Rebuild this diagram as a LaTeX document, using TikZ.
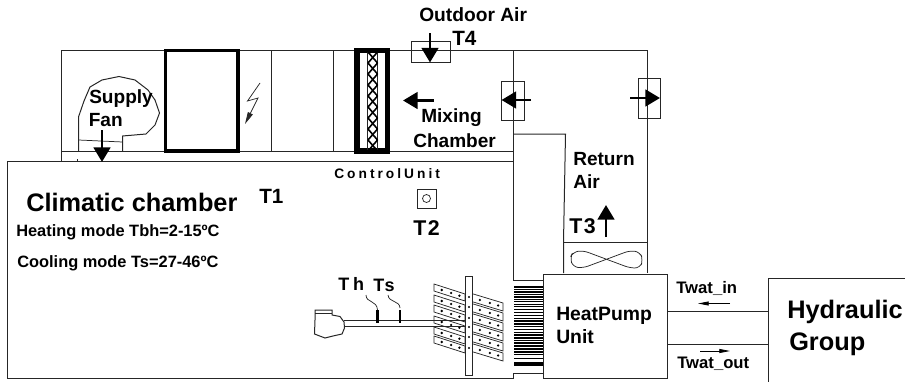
\documentclass[tikz,border=0pt]{standalone}
\usepackage{fontspec}
\setmainfont{Liberation Sans}
\usetikzlibrary{arrows.meta}
\tikzset{
  ln/.style={draw=black!85,line width=0.75pt},
  thin ln/.style={draw=black!85,line width=0.55pt},
  thick frame/.style={draw=black,line width=2.6pt},
  bigarrow/.style={line width=2pt,-{Triangle[width=12.5pt,length=11pt]}},
  tinyarrow/.style={line width=0.6pt,-{Triangle[width=3pt,length=8pt]}},
  txt/.style={inner sep=0pt,anchor=west,font=\bfseries},
  lab/.style={txt,font=\fontsize{14.3}{14.3}\selectfont\bfseries},
  lab big/.style={txt,font=\fontsize{15.5}{15.5}\selectfont\bfseries},
  fin/.style={fill=white,draw=black!85,line width=0.55pt},
  dot/.style={fill=black,draw=none}
}
\newcommand{\lsp}[1]{\addfontfeatures{LetterSpace=#1}}
\begin{document}
\begin{tikzpicture}[x=0.75pt,y=-0.75pt]
\useasboundingbox (0,0) rectangle (905,382);
% AHU casing
\draw[ln] (61.5,161) -- (61.5,50) -- (647,50) -- (647,273);
\draw[ln] (61.5,151) -- (513,151);
\draw[ln] (513,50) -- (513,280) -- (543,280);
\draw[ln] (271.5,50) -- (271.5,151);
\draw[ln] (333.5,50) -- (333.5,151);
\draw[ln] (77.5,159) -- (77.5,161);
% chamber
\draw[ln] (513,161.5) -- (7,161.5) -- (7,378) -- (513,378) -- (513,373) -- (543,373);
% heat filter
\draw[thick frame] (165.5,50.5) rectangle (238,151);
% lightning
\draw[thin ln,-{Triangle[width=4pt,length=9pt]}] (260,83) -- (247.5,101) -- (258,98) -- (245,124);
% filter
\draw[thick frame,line width=4pt] (357,50.5) rectangle (387.5,151);
\draw[thin ln] (367.5,52) -- (367.5,150) (377.5,52) -- (377.5,150);
\foreach \k in {0,...,8}{
  \draw[line width=1.2pt] (368,{52+\k*11}) -- (377.5,{63+\k*11});
  \draw[line width=1.2pt] (377.5,{52+\k*11}) -- (368,{63+\k*11});
}
% supply fan
\draw[ln] (78.5,151) -- (78.5,117) -- (84,101) -- (90,87) -- (102,80) -- (119,76.5) -- (135,80) -- (148,90) -- (155,100) -- (159.5,113) -- (155,125) -- (146,134) -- (122.5,136) -- (122.5,151);
\draw[thin ln] (78.5,140) -- (122.5,142);
\draw[bigarrow] (102,130) -- (102,162);
\node[lab] (supply) at (89,99) {Supply};
\node[lab] (fan) at (88.5,120.5) {Fan};
% dampers
\draw[ln] (411,41) rectangle (450,62.5);
\draw[bigarrow] (430,33) -- (430,62.5);
\draw[ln] (501.5,81) rectangle (524.5,120);
\draw[bigarrow] (531,100) -- (501.5,100);
\draw[ln] (638,78) rectangle (660,118.5);
\draw[bigarrow] (630,98) -- (660,98);
\draw[bigarrow] (433.5,100.5) -- (403,100.5);
% return duct
\draw[ln] (513,134) -- (565.5,134) -- (563.5,242) -- (563.5,273);
\draw[ln] (563.5,242) -- (647,242);
\draw[bigarrow] (606,237) -- (606,205);
% small fan
\draw[thin ln,rounded corners=4pt] (570,258) -- (573,252) -- (583,250.5) -- (630,268) -- (640,268) -- (643,260) -- (640,252) -- (630,250.5) -- (583,268) -- (573,267) -- cycle;
% heat pump box & hydraulic
\draw[ln] (543,274) rectangle (667,378.5);
\draw[ln] (667,311) -- (768,311);
\draw[ln] (667,344) -- (768,344);
\draw[ln] (905,278.5) -- (768.5,278.5) -- (768.5,382);
\draw[tinyarrow] (730,303.5) -- (698,303.5);
\draw[tinyarrow] (700,351) -- (730,351);
% condenser stripes
\foreach \a/\b in {286/287.5,288.5/290,291/292.5,293.5/295,296/297.5,298.5/300,301/302,303.5/304.5,306/307,309/310,312/313,315/316,317.5/319,320/321.5,322.5/325,326/327,329/330,332/333,334/336,337/338.5,339.5/341,342/344,345/347,348/350,351/353,354/355,358/359,361.5/366}{
  \fill[black] (513.5,\a) rectangle (543,\b);
}
% coil fins
\foreach \y in {284,295,305,316,327,336}{
  \draw[fin] (434,\y) -- (465,{\y+10}) -- (465,{\y+17}) -- (434,{\y+7}) -- cycle;
  \foreach \t in {0.25,0.55,0.82} \fill[dot] ({434+31*\t},{\y+10*\t+3.5}) circle (1.3);
}
\foreach \y in {293,303,313,323,333,343}{
  \draw[fin] (470,\y) -- (503,{\y+10}) -- (503,{\y+18}) -- (470,{\y+8}) -- cycle;
  \foreach \t in {0.3,0.6,0.85} \fill[dot] ({470+33*\t},{\y+10*\t+4}) circle (1.3);
}
% indoor fan and duct
\draw[ln] (344,320) -- (465,320);
\draw[ln] (344,326.5) -- (465,326.5);
\draw[ln] (315,310) -- (332,310) -- (332,315) -- (340,316.5) -- (344,322) -- (344.5,328) -- (342,334) -- (333,336) -- (325,338) -- (314.5,334) -- (315,320) -- cycle;
\draw[thin ln] (315,313) -- (332,313);
% coil plate
\draw[fin,line width=0.75pt] (465.5,276) rectangle (472,375);
\foreach \y in {297,307,318,327,337,348} \fill[dot] (469,\y) circle (1.2);
% sensors
\draw[thin ln] (366,295) .. controls (366,303) and (377,300) .. (377.5,310);
\draw[line width=2pt] (377.5,310) -- (377.5,323);
\draw[thin ln] (388,295) .. controls (389,303) and (399.5,300) .. (400,308);
\draw[line width=2pt] (400,310) -- (400,323);
% control unit sensor
\draw[ln] (417,189) rectangle (436,208);
\draw[thin ln] (426.5,198.5) circle (4);
% texts
\node[txt,font=\fontsize{14.4}{14.4}\selectfont\bfseries] (outdoor) at (419,15) {Outdoor Air};
\node[lab big] (t4) at (452,38.5) {T4};
\node[lab] (mixing) at (421,118) {Mixing};
\node[lab] (chamber) at (413,141) {Chamber};
\node[lab] (ret) at (573,159) {Return};
\node[lab] (air) at (573,182) {Air};
\node[txt,font=\fontsize{10.3}{10.3}\selectfont\bfseries\lsp{22}] (cu) at (334,173.5) {ControlUnit};
\node[lab big] (t1) at (259,196) {T1};
\node[txt,font=\fontsize{16}{16}\selectfont\bfseries\lsp{8}] (t2) at (413,228) {T2};
\node[txt,font=\fontsize{16}{16}\selectfont\bfseries\lsp{8}] (t3) at (569,226) {T3};
\node[txt,font=\fontsize{19}{19}\selectfont\bfseries] (cc) at (26,202.5) {Climatic chamber};
\node[txt,font=\fontsize{12.3}{12.3}\selectfont\bfseries] (hm) at (16,232.5) {Heating mode Tbh=2-15ºC};
\node[txt,font=\fontsize{12.3}{12.3}\selectfont\bfseries] (cm) at (17,263.5) {Cooling mode Ts=27-46ºC};
\node[txt,font=\fontsize{13.5}{13.5}\selectfont\bfseries\lsp{22}] (th) at (338,284) {Th};
\node[txt,font=\fontsize{13.5}{13.5}\selectfont\bfseries\lsp{10}] (ts) at (373,285) {Ts};
\node[txt,font=\fontsize{14.5}{14.5}\selectfont\bfseries] (hp) at (556,316) {HeatPump};
\node[txt,font=\fontsize{14.5}{14.5}\selectfont\bfseries] (unit) at (556,337) {Unit};
\node[txt,font=\fontsize{12.5}{12.5}\selectfont\bfseries] (twi) at (676,288) {Twat\_in};
\node[txt,font=\fontsize{12.5}{12.5}\selectfont\bfseries] (two) at (677,364) {Twat\_out};
\node[txt,font=\fontsize{19}{19}\selectfont\bfseries] (hy) at (787,312) {Hydraulic};
\node[txt,font=\fontsize{19}{19}\selectfont\bfseries] (gr) at (789,344) {Group};
\end{tikzpicture}
\end{document}
